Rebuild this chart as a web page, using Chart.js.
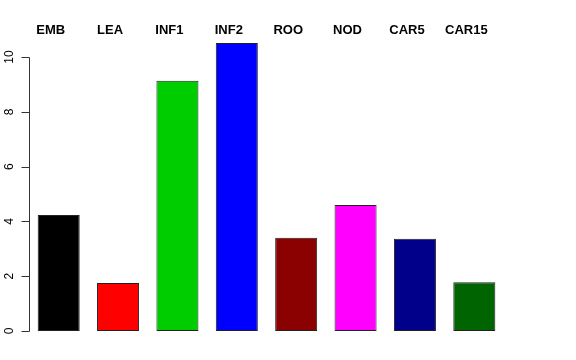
<!DOCTYPE html>
<html>
<head>
<meta charset="utf-8">
<script src="https://cdn.jsdelivr.net/npm/chart.js@4/dist/chart.umd.min.js"></script>
<style>
    html, body { margin: 0; padding: 0; background: #fff; }
    #wrap { width: 576px; height: 360px; }
</style>
</head>
<body>
<div id="wrap"><canvas id="barChart" width="576" height="360"></canvas></div>
<script>
var categorias = ['EMB', 'LEA', 'INF1', 'INF2', 'ROO', 'NOD', 'CAR5', 'CAR15'];
var valores = [4.23, 1.75, 9.13, 10.51, 3.40, 4.60, 3.37, 1.78];
var colores = ['#000000', '#FF0000', '#00CD00', '#0000FF', '#8B0000', '#FF00FF', '#00008B', '#006400'];
var ticksY = [0, 2, 4, 6, 8, 10];

// eje y y etiquetas de arriba al estilo R
const ejeR = {
    id: 'ejeR',
    afterDraw: chart => {
        const ctx = chart.ctx;
        const x = chart.scales.x;
        const y = chart.scales.y;
        const ax = Math.round(x.left) + 0.5;
        ctx.save();
        ctx.strokeStyle = '#333';
        ctx.lineWidth = 1;
        ctx.beginPath();
        ctx.moveTo(ax, Math.round(y.getPixelForValue(ticksY[0])) + 0.5);
        ctx.lineTo(ax, Math.round(y.getPixelForValue(ticksY[ticksY.length - 1])) + 0.5);
        ticksY.forEach(t => {
            const py = Math.round(y.getPixelForValue(t)) + 0.5;
            ctx.moveTo(ax - 8, py);
            ctx.lineTo(ax, py);
        });
        ctx.stroke();

        ctx.fillStyle = '#000';
        ctx.font = '12px "Liberation Sans", Arial, sans-serif';
        ctx.textAlign = 'center';
        ctx.textBaseline = 'middle';
        ticksY.forEach(t => {
            const py = y.getPixelForValue(t);
            ctx.save();
            ctx.translate(9.5, py);
            ctx.rotate(-Math.PI / 2);
            ctx.fillText(String(t), 0, 0);
            ctx.restore();
        });

        ctx.font = 'bold 13px "Liberation Sans", Arial, sans-serif';
        categorias.forEach((c, i) => {
            ctx.fillText(c, x.getPixelForValue(i) - 8, 30);
        });
        ctx.restore();
    }
};

new Chart('barChart', {
    type: 'bar',
    data: {
        labels: categorias,
        datasets: [{
            data: valores,
            backgroundColor: colores,
            borderColor: '#222',
            borderWidth: 1,
            borderSkipped: false,
            barPercentage: 0.708,
            categoryPercentage: 1
        }]
    },
    options: {
        responsive: false,
        animation: false,
        layout: { padding: { left: 29, right: 72, top: 40, bottom: 29 } },
        plugins: { legend: { display: false }, tooltip: { enabled: false } },
        scales: {
            x: { display: false, offset: true },
            y: { display: false, min: 0, max: 10.62 }
        }
    },
    plugins: [ejeR]
});
</script>
</body>
</html>
